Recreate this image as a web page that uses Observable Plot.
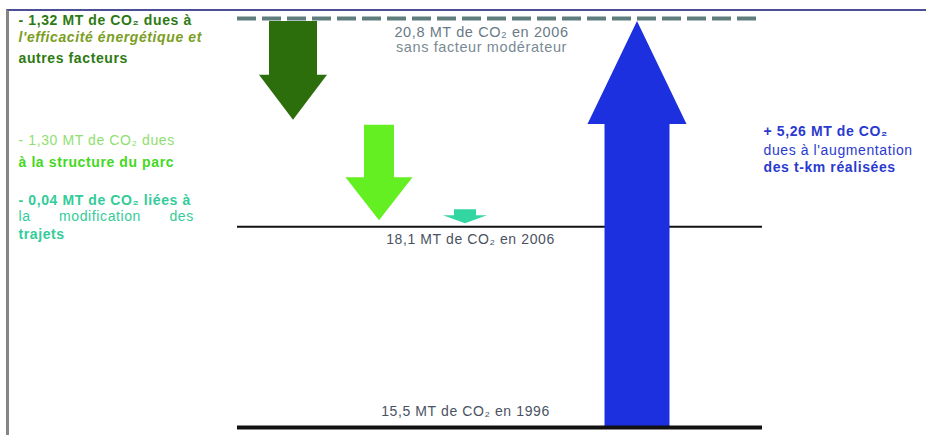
<!DOCTYPE html>
<html>
<head>
<meta charset="utf-8">
<script src="https://cdn.jsdelivr.net/npm/d3@7"></script>
<script src="https://cdn.jsdelivr.net/npm/@observablehq/plot@0.6"></script>
<style>
  html, body { margin: 0; padding: 0; background: #fff; }
  #wrap { position: relative; width: 926px; height: 435px; overflow: hidden; }
  #chart { position: absolute; left: 0; top: 0; }
  #border { position: absolute; left: 6px; top: 9px; width: 930px; height: 440px;
            border-top: 2px solid #4b4f96; border-left: 3px solid #858585; pointer-events: none; }
  svg text { letter-spacing: 0.6px; }
</style>
</head>
<body>
<div id="wrap"><div id="chart"></div><div id="border"></div></div>
<script>
// ---- data ----
const factors = ["efficacite", "structure", "trajets", "volume"];
const deltas = [-1.32, -1.30, -0.04, 5.26];
const levelNames = ["1996", "2006", "2006 sans facteur"];
const levelValues = [15.5, 18.1, 20.8];
const levelLabels = ["15,5 MT de CO₂ en 1996", "18,1 MT de CO₂ en 2006", "20,8 MT de CO₂ en 2006"];
const levelSubLabel = "sans facteur modérateur";
const notes = {
  efficacite: ["- 1,32 MT de CO₂ dues à", "l'efficacité énergétique et", "autres facteurs"],
  structure: ["- 1,30 MT de CO₂ dues", "à la structure du parc"],
  trajets: ["- 0,04 MT de CO₂ liées à", "la modification des", "trajets"],
  volume: ["+ 5,26 MT de CO₂", "dues à l'augmentation", "des t-km réalisées"]
};

// ---- derived (cascade) ----
const base1996 = levelValues[0], top2006 = levelValues[2], real2006 = levelValues[1];
let cur = top2006;
const arrowData = factors.map((f, i) => {
  if (deltas[i] > 0) return {factor: f, from: base1996, to: base1996 + deltas[i]};
  const d = {factor: f, from: cur, to: cur + deltas[i]};
  cur += deltas[i];
  return d;
});

// ---- styles ----
const arrowStyle = {
  efficacite: {color: "#2b6e0b", shaft: 48, headW: 68, head: 45, gap: 3, minLen: 0},
  structure:  {color: "#63ef22", shaft: 30, headW: 67, head: 43, gap: 5, minLen: 0},
  trajets:    {color: "#33d6a0", shaft: 22, headW: 44, head: 8, gap: 0, minLen: 14},
  volume:     {color: "#1c30e0", shaft: 65, headW: 99, head: 103, gap: 0, minLen: 0}
};
const FONT = "'Liberation Sans', Arial, sans-serif";
const ML = 237;

function arrows(index, scales) {
  const g = d3.create("svg:g");
  for (const d of arrowData) {
    const s = arrowStyle[d.factor];
    const cx = scales.x(d.factor);
    let y0 = scales.y(d.from);
    const y1 = scales.y(d.to);
    const dir = Math.sign(y1 - y0);
    y0 += dir * s.gap;
    const len = Math.max(Math.abs(y1 - y0), s.minLen);
    y0 = y1 - dir * len;
    const hb = y1 - dir * Math.min(s.head, len);
    const sw = s.shaft / 2, hw = s.headW / 2;
    const pts = [[cx - sw, y0], [cx + sw, y0], [cx + sw, hb], [cx + hw, hb], [cx, y1], [cx - hw, hb], [cx - sw, hb]];
    g.append("path").attr("d", "M" + pts.map(p => p.join(",")).join("L") + "Z").attr("fill", s.color);
  }
  return g.node();
}

function noteMarks(lines, x, y0, step, styles) {
  return lines.map((t, i) => Plot.text([t], {
    frameAnchor: "top-left", text: d => d, dx: x - ML, dy: y0 + step[i],
    textAnchor: "start", lineAnchor: "middle", fontSize: 14, fontFamily: FONT,
    ...styles[i]
  }));
}

const levels = levelNames.map((n, i) => ({name: n, value: levelValues[i], label: levelLabels[i], at: "trajets"}));

const chart = Plot.plot({
  width: 926, height: 435,
  marginLeft: ML, marginRight: 164, marginTop: 0, marginBottom: 0,
  style: {background: "transparent", fontFamily: FONT},
  x: {type: "point", domain: ["efficacite", "structure", "trajets", "", "volume"], range: [293, 637], padding: 0, axis: null},
  y: {domain: [base1996, top2006], range: [427, 18], axis: null},
  marks: [
    Plot.ruleY([real2006], {stroke: "#111", strokeWidth: 2}),
    arrows,
    Plot.ruleY([base1996], {stroke: "#111", strokeWidth: 4}),
    Plot.ruleY([top2006], {stroke: "#5f7d7d", strokeWidth: 4, strokeDasharray: "19,6"}),
    // level labels
    Plot.text(levels.filter(d => d.name === "2006 sans facteur"), {x: "at", y: "value", text: "label", dy: 14, dx: 16, fill: "#6a7a86", fontSize: 14.5}),
    Plot.text(levels.filter(d => d.name === "2006 sans facteur"), {x: "at", y: "value", text: () => levelSubLabel, dy: 29, dx: 16, fill: "#7a8a94", fontSize: 14.5}),
    Plot.text(levels.filter(d => d.name === "2006"), {x: "at", y: "value", text: "label", dy: 13, dx: 5, fill: "#4a5262", fontSize: 14}),
    Plot.text(levels.filter(d => d.name === "1996"), {x: "at", y: "value", text: "label", dy: -16, dx: 0, fill: "#4a5262", fontSize: 14}),
    // side notes
    ...noteMarks(notes.efficacite, 18, 20, [0, 17, 38], [
      {fill: "#2d7a12", fontWeight: "bold"},
      {fill: "#7a9e22", fontWeight: "bold", fontStyle: "italic"},
      {fill: "#2d7a12", fontWeight: "bold"}
    ]),
    ...noteMarks(notes.structure, 18, 140, [0, 22], [
      {fill: "#8ee070"},
      {fill: "#44d81e", fontWeight: "bold"}
    ]),
    ...noteMarks(notes.trajets, 18, 200, [0, 16, 34], [
      {fill: "#33cc99", fontWeight: "bold"},
      {fill: "#33cc99"},
      {fill: "#33cc99", fontWeight: "bold"}
    ]),
    ...noteMarks(notes.volume, 763, 131, [0, 19, 36], [
      {fill: "#2a3ad0", fontWeight: "bold"},
      {fill: "#2a3ad0"},
      {fill: "#2a3ad0", fontWeight: "bold"}
    ])
  ]
});
document.getElementById("chart").appendChild(chart);
d3.select(chart).selectAll("text").filter(function() { return this.textContent === "la modification des"; })
  .style("word-spacing", "24px");
</script>
</body>
</html>
